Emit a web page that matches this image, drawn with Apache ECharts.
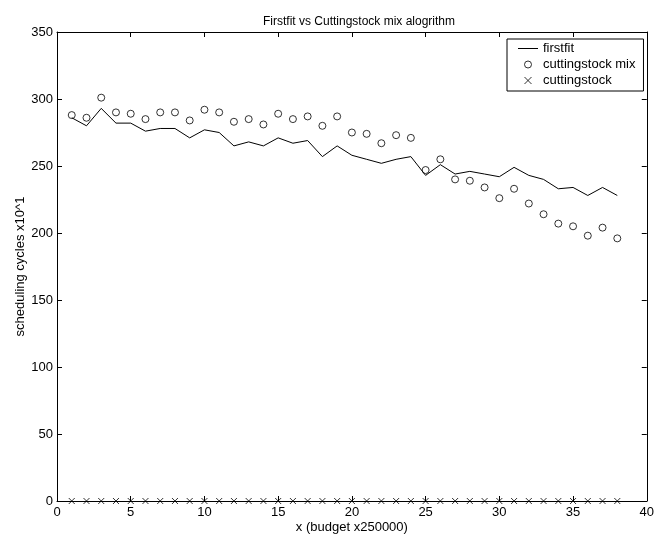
<!DOCTYPE html>
<html>
<head>
<meta charset="utf-8">
<script src="https://cdn.jsdelivr.net/npm/echarts@6/dist/echarts.min.js"></script>
<style>
  html, body { margin: 0; padding: 0; background: #fff; }
  #chart { width: 657px; height: 539px; }
</style>
</head>
<body>
<div id="chart"></div>
<script>
var budgets = [];
for (var i = 1; i <= 38; i++) budgets.push(i);

var firstfit = [286, 280, 293, 282, 282, 276, 278, 278, 271, 277, 275, 265, 268,
  265, 271, 267, 269, 257, 265, 258, 255, 252, 255, 257, 243, 251,
  244, 246, 244, 242, 249, 243, 240, 233, 234, 228, 234, 228];
var cuttingMix = [288, 286, 301, 290, 289, 285, 290, 290, 284, 292, 290, 283, 285,
  281, 289, 285, 287, 280, 287, 275, 274, 267, 273, 271, 247, 255,
  240, 239, 234, 226, 233, 222, 214, 207, 205, 198, 204, 196];
var cutting = [0, 0, 0, 0, 0, 0, 0, 0, 0, 0, 0, 0, 0, 0, 0, 0, 0, 0, 0,
  0, 0, 0, 0, 0, 0, 0, 0, 0, 0, 0, 0, 0, 0, 0, 0, 0, 0, 0];

function pairs(vals) {
  return budgets.map(function(b, i) { return [b, vals[i]]; });
}

var font = 'Liberation Sans, Arial, sans-serif';
var crossPath = 'path://M0,0 L10,10 M10,0 L0,10';
var linePath = 'path://M0,0 L20,0 L20,1 L0,1 Z';

var chart = echarts.init(document.getElementById('chart'), null, { renderer: 'canvas' });

// matlab style box: ticks on all four sides, pointing in
function boxAxis(min, max, step) {
  return {
    min: min, max: max, interval: step,
    axisLine: { show: true, onZero: false, lineStyle: { color: '#000', width: 1 } },
    axisTick: { show: true, inside: true, length: 5, lineStyle: { color: '#000' } },
    splitLine: { show: false }
  };
}

chart.setOption({
  animation: false,
  backgroundColor: '#fff',
  title: {
    text: 'Firstfit vs Cuttingstock mix alogrithm',
    left: 354, top: 11, textAlign: 'center',
    textStyle: { fontFamily: font, fontSize: 12, fontWeight: 'normal', color: '#000' }
  },
  grid: { left: 57, right: 5, top: 32, bottom: 37 },
  legend: {
    orient: 'vertical',
    left: 507, top: 39,
    padding: [3, 8, 4, 11],
    itemGap: 3,
    itemWidth: 20,
    itemHeight: 7,
    backgroundColor: '#fff',
    borderColor: '#000',
    borderWidth: 1,
    borderRadius: 0,
    textStyle: { fontFamily: font, fontSize: 13, color: '#000' },
    data: [
      { name: 'firstfit', icon: linePath, itemStyle: { borderWidth: 0 } },
      { name: 'cuttingstock mix', itemStyle: { borderWidth: 1 } },
      { name: 'cuttingstock', itemStyle: { borderWidth: 1 } }
    ]
  },
  xAxis: [
    Object.assign({
      type: 'value', position: 'bottom',
      name: 'x (budget x250000)', nameLocation: 'middle', nameGap: 20,
      nameMoveOverlap: false,
      nameTextStyle: { fontFamily: font, fontSize: 13, color: '#000' },
      axisLabel: { fontFamily: font, fontSize: 13, color: '#000', margin: 5 }
    }, boxAxis(0, 40, 5)),
    Object.assign({
      type: 'value', position: 'top',
      axisLabel: { show: false }
    }, boxAxis(0, 40, 5))
  ],
  yAxis: [
    Object.assign({
      type: 'value', position: 'left',
      name: 'scheduling cycles x10^1', nameLocation: 'middle', nameGap: 30,
      nameMoveOverlap: false,
      nameTextStyle: { fontFamily: font, fontSize: 13, color: '#000' },
      axisLabel: { fontFamily: font, fontSize: 13, color: '#000', margin: 4 }
    }, boxAxis(0, 350, 50)),
    Object.assign({
      type: 'value', position: 'right',
      axisLabel: { show: false }
    }, boxAxis(0, 350, 50))
  ],
  series: [
    {
      name: 'firstfit',
      type: 'line',
      data: pairs(firstfit),
      symbol: 'none',
      lineStyle: { color: '#000', width: 1 },
      itemStyle: { color: '#000' }
    },
    {
      name: 'cuttingstock mix',
      type: 'scatter',
      data: pairs(cuttingMix),
      symbol: 'circle',
      symbolSize: 7,
      itemStyle: { color: 'rgba(0,0,0,0)', borderColor: '#000', borderWidth: 1 }
    },
    {
      name: 'cuttingstock',
      type: 'scatter',
      data: pairs(cutting),
      symbol: crossPath,
      symbolSize: 6,
      itemStyle: { color: 'none', borderColor: '#000', borderWidth: 1 },
      clip: false
    }
  ]
});
</script>
</body>
</html>
